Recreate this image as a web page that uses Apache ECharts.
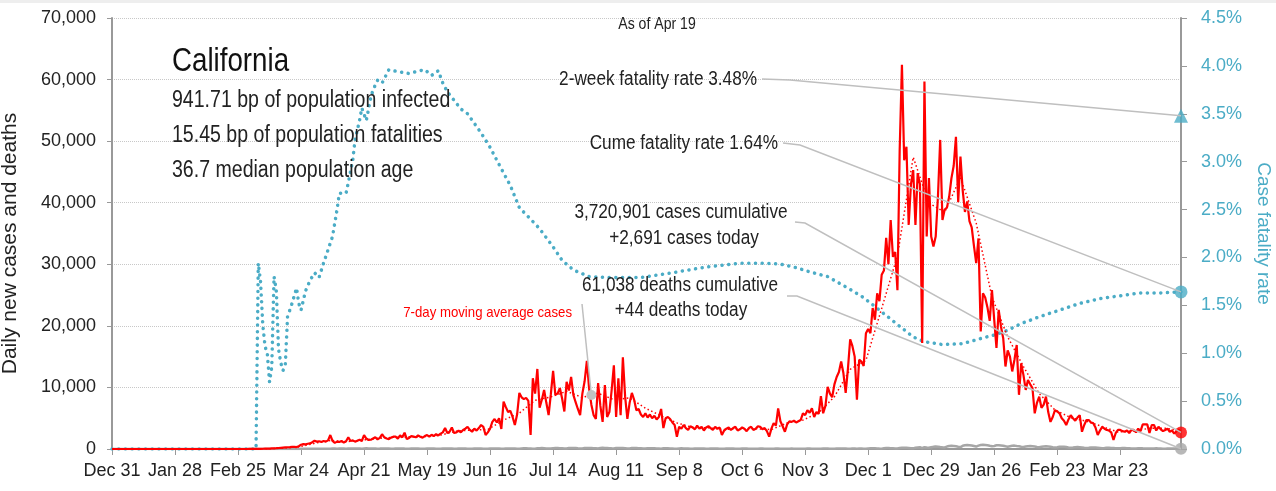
<!DOCTYPE html>
<html>
<head>
<meta charset="utf-8">
<script src="https://cdn.jsdelivr.net/npm/echarts@6/dist/echarts.min.js"></script>
<style>
html, body { margin: 0; padding: 0; background: #fff; }
#chart { width: 1276px; height: 491px; }
</style>
</head>
<body>
<div id="chart"></div>
<script>
// x axis: day 0 = Dec 31 2019, one label every 28 days
var tickLabels = ['Dec 31', 'Jan 28', 'Feb 25', 'Mar 24', 'Apr 21', 'May 19', 'Jun 16', 'Jul 14', 'Aug 11',
	'Sep 8', 'Oct 6', 'Nov 3', 'Dec 1', 'Dec 29', 'Jan 26', 'Feb 23', 'Mar 23'];

// daily new cases, one row per week (Dec 31 2019 .. Apr 19 2021)
var dailyCases = [
	0,0,0,0,0,0,0, 0,0,0,0,0,0,0, 0,0,0,0,0,0,0, 0,0,0,0,0,0,0,
	0,0,0,0,0,0,0, 0,0,0,0,0,0,0, 0,0,0,0,0,0,0, 0,0,0,0,0,0,0,
	0,0,0,0,0,5,10,
	10,15,20,25,40,50,60,
	70,90,110,130,160,190,220,
	250,280,300,330,350,320,450,
	700,800,750,850,900,1100,1350,
	1200,1250,1150,1300,1200,1400,2270,
	1300,1000,1200,1150,1300,1050,1250,
	1900,1300,1400,1200,1350,1500,1300,
	2270,1700,1460,1500,1700,1900,1550,
	1800,2400,1900,1700,1600,1850,2000,
	2000,1700,2200,1900,2650,1600,1800,
	2100,2000,1900,2200,2000,1850,2100,
	2270,2000,2300,2100,2400,2200,2500,
	2700,3400,2600,2800,3500,2600,2700,
	3000,2700,3100,3300,3600,3100,2800,
	3300,3000,3400,3900,3600,2270,2700,
	3300,4400,4870,4300,5000,3250,7700,
	6800,6000,6200,5200,3900,5600,9100,
	8400,8100,8300,7800,2270,11500,9000,
	13000,6700,8000,9600,7500,5500,8900,
	12700,8800,9000,9900,8200,6100,10900,
	9500,11700,8800,7600,6500,5500,9000,
	11000,14300,9800,7200,5500,4900,10700,
	7000,4400,10400,5200,6000,9500,13600,
	5200,11500,5500,14900,8500,4900,7500,
	9100,8000,6300,6500,5600,5200,5800,
	5100,5600,5000,5400,4800,5200,6500,
	3400,5000,5200,4870,4300,3900,2000,
	3600,3300,3900,3400,3100,3700,3500,
	3200,3800,3300,3600,3000,3500,3700,
	3400,3100,3600,3300,3500,2270,3000,
	3300,3500,3100,3400,3600,3000,3200,
	3500,3300,2900,3400,3600,3100,3300,
	3700,3600,3200,3400,2900,2000,3300,
	4200,3800,6600,4500,3700,2800,4000,
	4500,4400,4600,4300,4500,4700,5800,
	5500,6300,5900,6600,5200,6000,5700,
	8600,5800,7000,10100,9000,8400,10500,
	11700,12500,14200,12300,9100,13000,17800,
	16700,15000,8000,14500,14200,13500,18800,
	19500,18800,22900,21000,25300,24000,28300,
	29000,34300,30000,37200,31200,32000,25800,
	48600,62400,46900,49100,36400,43000,45300,
	36400,44800,43000,17200,59700,34500,44000,
	34500,32900,34500,41000,50200,37200,38900,
	39200,41000,44000,46000,50700,40100,47500,
	42000,38500,40200,37000,36000,33000,30200,
	34200,19100,25300,24600,23000,20800,25800,
	21000,16400,22600,19900,18000,13400,16000,
	15000,12600,14500,16900,8800,13900,12000,
	9600,11200,10500,9900,5800,7500,8500,
	6700,7200,8500,6000,4400,5200,6300,
	6100,5800,5000,4600,3900,4800,5500,
	5000,4600,5100,5500,2800,3900,4700,
	4700,4300,4200,3500,2270,3000,3600,
	3300,3100,3000,2700,1460,2600,3100,
	3100,2900,2800,3000,2600,3100,3100,
	2700,3300,2900,4000,4000,4000,2600,
	3900,3900,3000,3600,3200,2900,3100,
	3300,2800,3000,2500,2900,3200,2691
];

// daily new deaths, same layout
var dailyDeaths = [
	0,0,0,0,0,0,0, 0,0,0,0,0,0,0, 0,0,0,0,0,0,0, 0,0,0,0,0,0,0,
	0,0,0,0,0,0,0, 0,0,0,0,0,0,0, 0,0,0,0,0,0,0, 0,0,0,0,0,0,0,
	0,0,0,0,0,0,0,
	0,0,1,0,1,2,1,
	1,2,1,3,4,5,6,
	8,6,10,12,15,14,20,
	25,28,30,35,32,40,42,
	45,50,55,48,60,58,52,
	65,70,60,75,68,72,50,
	80,95,85,70,90,100,60,
	95,110,85,75,90,80,55,
	70,95,80,75,85,60,50,
	75,90,70,80,65,55,45,
	70,80,75,85,60,50,40,
	70,80,75,90,60,45,40,
	70,85,80,75,65,50,35,
	70,80,75,70,60,45,30,
	65,75,80,70,60,45,30,
	70,80,90,75,65,50,35,
	80,95,100,90,70,50,40,
	90,110,120,100,80,40,60,
	120,140,150,130,100,80,70,
	140,150,160,130,110,90,80,
	150,160,170,150,120,100,85,
	160,180,170,150,130,110,90,
	170,190,180,160,140,110,90,
	160,180,170,150,130,100,80,
	150,160,150,140,120,90,70,
	130,140,130,120,100,80,60,
	110,120,110,100,80,60,50,
	90,110,100,90,70,50,40,
	90,100,95,85,70,50,40,
	80,90,85,75,60,45,35,
	70,80,75,70,55,40,30,
	65,75,70,60,50,35,30,
	60,70,65,55,50,35,30,
	60,70,65,60,50,35,25,
	55,65,60,55,45,30,25,
	55,70,65,60,50,35,30,
	60,75,70,65,55,40,35,
	70,90,85,80,65,50,40,
	80,100,60,90,75,55,45,
	100,120,130,110,90,70,60,
	120,150,160,140,120,90,80,
	170,200,210,190,160,130,110,
	220,260,280,150,300,240,200,
	300,350,420,380,320,280,250,
	400,480,520,500,450,380,320,
	520,600,650,620,560,480,400,
	550,650,700,650,600,520,450,
	500,600,620,580,540,450,380,
	450,520,550,500,460,380,320,
	400,460,480,450,400,330,280,
	350,420,440,400,360,300,250,
	300,360,380,350,310,260,220,
	250,300,320,290,260,210,180,
	200,240,260,230,200,170,140,
	160,190,200,180,160,130,110,
	130,150,160,140,120,100,90,
	100,120,130,110,95,80,70,
	80,100,110,90,75,60,55,
	70,85,80,70,60,50,44
];

// 7-day moving average of cases, read at the last day of each week
var avgCases = [0, 0, 0, 0, 0, 0, 0, 0, 2, 30, 140, 330, 920, 1400, 1180, 1430, 1730, 1890, 1980, 2020,
	2250, 2900, 3090, 3160, 4690, 5840, 7910, 8460, 9370, 8370, 9060, 8010, 8290, 6640, 5370, 4240,
	3500, 3440, 3170, 3300, 3300, 3160, 4230, 4690, 5890, 8490, 12940, 14390, 22830, 31360, 47390,
	39940, 38460, 44070, 36700, 24690, 18190, 13390, 9000, 6330, 5100, 4510, 3650, 2750, 2940, 3360,
	3370, 2910];

// cumulative case fatality rate (%), by day index
var cfrDays = [0, 64, 65, 66, 67, 68, 69, 70, 71, 72, 73, 74, 75, 76, 77, 78, 79, 80, 82, 83, 84, 86, 88,
	90, 92, 94, 96, 98, 100, 101, 104, 105, 107, 108, 110, 111, 113, 115, 116, 118, 120, 123, 127, 130,
	132, 135, 139, 142, 145, 147, 149, 152, 155, 158, 164, 168, 172, 177, 181, 186, 190, 196, 200, 205,
	212, 221, 235, 249, 264, 279, 290, 297, 303, 310, 318, 327, 334, 341, 349, 356, 361, 369, 378, 387,
	392, 398, 404, 412, 421, 430, 439, 448, 457, 466, 475];
var cfrRates = [0, 0, 1.94, 1.75, 1.30, 1.07, 1.00, 0.70, 0.86, 1.80, 1.66, 1.04, 0.90, 0.82, 0.88, 1.38,
	1.45, 1.52, 1.68, 1.52, 1.45, 1.65, 1.76, 1.84, 1.79, 1.94, 2.08, 2.22, 2.50, 2.67, 2.67, 2.78, 3.02,
	3.23, 3.43, 3.56, 3.43, 3.67, 3.75, 3.85, 3.82, 3.96, 3.94, 3.93, 3.92, 3.94, 3.96, 3.90, 3.95, 3.82,
	3.73, 3.64, 3.55, 3.50, 3.30, 3.15, 2.97, 2.75, 2.52, 2.40, 2.30, 2.11, 1.97, 1.87, 1.80, 1.79, 1.79,
	1.84, 1.90, 1.94, 1.94, 1.93, 1.90, 1.85, 1.80, 1.68, 1.58, 1.45, 1.30, 1.17, 1.12, 1.09, 1.10, 1.16,
	1.19, 1.24, 1.31, 1.38, 1.45, 1.52, 1.57, 1.60, 1.63, 1.63, 1.64];

var twoWeekRate = 3.48;
var cumeRate = 1.64;
var casesTotal = '3,720,901';
var deathsTotal = '61,038';
var infoLines = ['941.71 bp of population infected', '15.45 bp of population fatalities', '36.7 median population age'];
var avgLabelDay = 213;

var FONT = '"Liberation Sans", Arial, sans-serif';
var TEAL = '#4bacc6';
var RED = '#ff0000';
var GRAY = '#a6a6a6';
var NARROW = 0.86; // the original face is a condensed one

var lastDay = dailyCases.length - 1;
var casesData = dailyCases.map(function(v, i) { return [i, v]; });
var deathsData = dailyDeaths.map(function(v, i) { return [i, v]; });
var avgData = avgCases.map(function(v, w) { return [w * 7 + 6, v]; });
var cfrData = cfrDays.map(function(d, i) { return [d, cfrRates[i]]; });

var myChart = echarts.init(document.getElementById('chart'));

var option = {
	animation: false,
	backgroundColor: '#fff',
	grid: { left: 112, right: 95, top: 18, bottom: 42, containLabel: false, outerBoundsMode: 'none' },
	xAxis: {
		type: 'value',
		min: 0,
		max: lastDay,
		interval: 28,
		axisLine: { show: true, lineStyle: { color: '#999', width: 2 } },
		axisTick: { show: true, length: 6, lineStyle: { color: '#999', width: 1 } },
		axisLabel: {
			color: '#222', fontSize: 18, fontFamily: FONT, margin: 13, showMaxLabel: false,
			formatter: function(v) { return v % 28 === 0 ? (tickLabels[v / 28] || '') : ''; }
		},
		splitLine: { show: false }
	},
	yAxis: [{
		type: 'value',
		min: 0,
		max: 70000,
		interval: 10000,
		name: 'Daily new cases and deaths',
		nameLocation: 'middle',
		nameGap: 91,
		nameTextStyle: { color: '#222', fontSize: 21, fontFamily: FONT, padding: [0, 20, 0, 0] },
		axisLine: { show: true, lineStyle: { color: '#999', width: 2 } },
		axisTick: { show: true, length: 5, lineStyle: { color: '#999' } },
		axisLabel: {
			color: '#222', fontSize: 18, fontFamily: FONT, margin: 16,
			formatter: function(v) { return v.toLocaleString('en-US'); }
		},
		splitLine: { show: true, lineStyle: { color: '#c8c8c8', type: 'dotted', width: 1 } }
	}, {
		type: 'value',
		min: 0,
		max: 4.5,
		interval: 0.5,
		position: 'right',
		name: 'Case fatality rate',
		nameLocation: 'middle',
		nameGap: 73,
		nameRotate: -90,
		nameTextStyle: { color: TEAL, fontSize: 19, fontFamily: FONT },
		axisLine: { show: true, lineStyle: { color: '#999', width: 2 } },
		axisTick: { show: true, length: 6, lineStyle: { color: '#999' } },
		axisLabel: {
			color: TEAL, fontSize: 18, fontFamily: FONT, margin: 20,
			formatter: function(v) { return v.toFixed(1) + '%'; }
		},
		splitLine: { show: false }
	}],
	series: [{
		name: 'Case fatality rate',
		type: 'line',
		yAxisIndex: 1,
		data: cfrData,
		showSymbol: false,
		lineStyle: { color: TEAL, width: 3.5, type: [0.1, 6.6], cap: 'round' },
		z: 2
	}, {
		name: 'Deaths',
		type: 'line',
		data: deathsData,
		showSymbol: false,
		lineStyle: { color: GRAY, width: 2.5 },
		z: 3
	}, {
		name: 'Cases',
		type: 'line',
		data: casesData,
		showSymbol: false,
		lineStyle: { color: RED, width: 2.2 },
		z: 4
	}, {
		name: '7-day average',
		type: 'line',
		data: avgData,
		showSymbol: false,
		lineStyle: { color: RED, width: 1.5, type: [1.5, 2.5] },
		z: 5
	}, {
		type: 'scatter',
		data: [[lastDay, dailyCases[lastDay]]],
		symbolSize: 12,
		itemStyle: { color: RED },
		clip: false,
		z: 6
	}, {
		type: 'scatter',
		data: [[lastDay, dailyDeaths[lastDay]]],
		symbolSize: 12,
		itemStyle: { color: GRAY },
		clip: false,
		z: 6
	}, {
		type: 'scatter',
		yAxisIndex: 1,
		data: [[lastDay, cumeRate]],
		symbolSize: 13,
		itemStyle: { color: TEAL },
		clip: false,
		z: 6
	}, {
		type: 'scatter',
		yAxisIndex: 1,
		data: [[lastDay, twoWeekRate]],
		symbol: 'triangle',
		symbolSize: 14,
		itemStyle: { color: TEAL },
		clip: false,
		z: 6
	}]
};
myChart.setOption(option);

// annotations: texts at fixed spots, leader lines run to the last data points
function px(val, axis) {
	return myChart.convertToPixel({ xAxisIndex: 0, yAxisIndex: axis }, val);
}
function txt(text, x, y, size, color, align, sx) {
	return {
		type: 'text', z: 10, x: x, y: y, scaleX: sx || NARROW,
		style: { text: text, x: 0, y: 0, fill: color || '#222', fontSize: size, fontFamily: FONT,
			align: align || 'left', verticalAlign: 'middle' }
	};
}
function leader(points) {
	return { type: 'polyline', z: 8, shape: { points: points }, style: { stroke: '#bfbfbf', lineWidth: 1.5, fill: null } };
}

var wk = Math.floor(avgLabelDay / 7);
var t = (avgLabelDay - (wk * 7 - 1)) / 7;
var avgAtLabel = avgCases[wk - 1] + (avgCases[wk] - avgCases[wk - 1]) * t;
var pTri = px([lastDay, twoWeekRate], 1);
var pCume = px([lastDay, cumeRate], 1);
var pCase = px([lastDay, dailyCases[lastDay]], 0);
var pDeath = px([lastDay, dailyDeaths[lastDay]], 0);
var pAvg = px([avgLabelDay, avgAtLabel], 0);

myChart.setOption({
	graphic: [
		{ type: 'rect', shape: { x: 0, y: 0, width: 1276, height: 3 }, style: { fill: '#eeeeee' } },
		txt('California', 172, 62, 33, '#111', 'left', 0.84),
		txt(infoLines[0], 172, 101, 23, '#222', 'left', 0.85),
		txt(infoLines[1], 172, 136, 23, '#222', 'left', 0.85),
		txt(infoLines[2], 172, 171, 23, '#222', 'left', 0.85),
		txt('As of Apr 19', 657, 25, 16, '#222', 'center', 0.88),
		txt('2-week fatality rate ' + twoWeekRate.toFixed(2) + '%', 757, 79, 20, '#222', 'right'),
		txt('Cume fatality rate ' + cumeRate.toFixed(2) + '%', 778, 143, 20, '#222', 'right'),
		txt(casesTotal + ' cases cumulative', 681, 212, 20, '#222', 'center'),
		txt('+' + dailyCases[lastDay].toLocaleString('en-US') + ' cases today', 684, 238, 20, '#222', 'center'),
		txt(deathsTotal + ' deaths cumulative', 680, 285, 20, '#222', 'center'),
		txt('+' + dailyDeaths[lastDay] + ' deaths today', 681, 310, 20, '#222', 'center'),
		txt('7-day moving average cases', 572, 313, 15, RED, 'right', 0.88),
		leader([[762, 79], [790, 80], pTri]),
		leader([[783, 143], [800, 145], pCume]),
		leader([[795, 222], [805, 223], pCase]),
		leader([[787, 296], [797, 296], pDeath]),
		leader([[582, 304], pAvg]),
		{ type: 'circle', z: 9, shape: { cx: pAvg[0], cy: pAvg[1], r: 5 }, style: { fill: '#c0c0c0' } }
	]
});
</script>
</body>
</html>
